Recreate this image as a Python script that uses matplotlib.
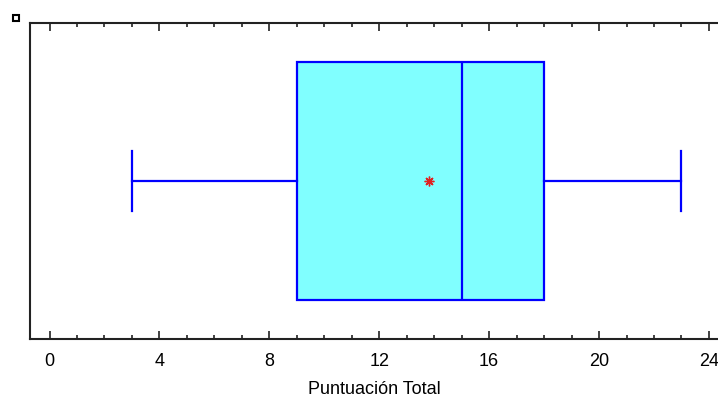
import matplotlib
matplotlib.use("Agg")
import matplotlib.pyplot as plt
from matplotlib.ticker import MultipleLocator
from matplotlib.patches import Rectangle

plt.rcParams['font.family'] = ['Liberation Sans', 'DejaVu Sans']

# Five-number summary and mean of the total score
whisker_low = 3
q1 = 9
median = 15
q3 = 18
whisker_high = 23
mean = 13.8
x_ticks = [0, 4, 8, 12, 16, 20, 24]
x_label = "Puntuación Total"

fig = plt.figure(figsize=(7.18, 3.98), dpi=100)
ax = fig.add_axes([30 / 718, 59 / 398, 688 / 718, 316 / 398])

stats = [dict(whislo=whisker_low, q1=q1, med=median, q3=q3, whishi=whisker_high,
              mean=mean, fliers=[])]
blue = "#0000FF"
ax.bxp(stats, positions=[0.5], widths=0.753, capwidths=0.187, vert=False,
       patch_artist=True, showmeans=True,
       boxprops=dict(facecolor="#80FFFF", edgecolor=blue, linewidth=1.6),
       medianprops=dict(color=blue, linewidth=1.6),
       whiskerprops=dict(color=blue, linewidth=1.6),
       capprops=dict(color=blue, linewidth=1.6),
       meanprops=dict(marker=(8, 2, 0), markerfacecolor="red", markeredgecolor="#E02020",
                      markersize=7, markeredgewidth=1.0))

ax.set_ylim(0, 1)
ax.set_xlim(-0.71, 24.33)
ax.set_yticks([])
ax.xaxis.set_major_locator(MultipleLocator(4))
ax.xaxis.set_minor_locator(MultipleLocator(1))
ax.set_xticks(x_ticks)
ax.set_xticklabels([str(t) for t in x_ticks])
ax.tick_params(axis="x", which="both", direction="in", top=True, bottom=True,
               color="#222222", width=1.2, labelsize=13, pad=10)
ax.tick_params(axis="x", which="major", length=6)
ax.tick_params(axis="x", which="minor", length=3)
ax.spines["right"].set_visible(False)
for side in ("left", "top", "bottom"):
    ax.spines[side].set_linewidth(1.5)
    ax.spines[side].set_color("#222222")
ax.set_xlabel(x_label, fontsize=13, labelpad=8)

# small square marker in the upper left corner
fig.patches.append(Rectangle((13 / 718, 1 - 21 / 398), 6 / 718, 6 / 398,
                             transform=fig.transFigure, facecolor="white",
                             edgecolor="black", linewidth=1.5))

fig.savefig("out.png", dpi=100)
